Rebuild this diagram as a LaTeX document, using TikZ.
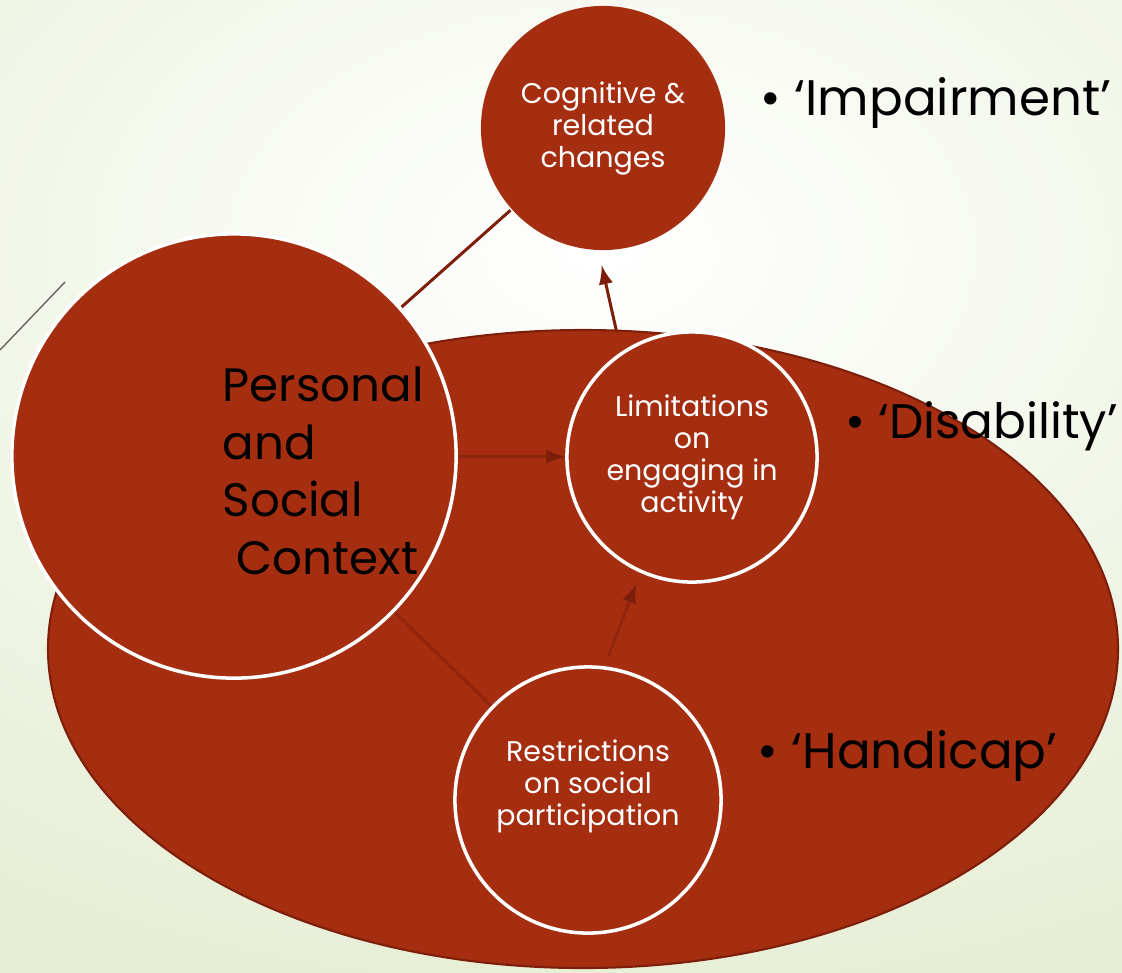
\documentclass[tikz,border=0pt]{standalone}
\usepackage{fontspec}
\setmainfont{Poppins}
\usetikzlibrary{positioning,arrows.meta}
\definecolor{rust}{RGB}{165,46,17}
\definecolor{rustdark}{RGB}{125,30,10}
\definecolor{paleback}{RGB}{228,236,208}
\pgfdeclarelayer{bg}
\pgfsetlayers{bg,main}

\begin{document}
\begin{tikzpicture}[x=0.01cm,y=-0.01cm]
		\tikzset{>=latex}
		\tikzset{
			bubble/.style={circle,fill=rust,draw=white,line width=1pt,text=white,
				align=center,inner sep=0pt,font=\fontsize{8.1}{9.1}\selectfont},
			bubbletext/.style={text=white,align=center,inner sep=0pt,
				font=\fontsize{8.1}{9.1}\selectfont},
			link/.style={draw=rustdark,line width=0.85pt},
			faint/.style={link,draw opacity=0.45},
			tag/.style={anchor=west,inner sep=0pt,font=\fontsize{14.2}{17}\selectfont}
		}
		\useasboundingbox (0,0) rectangle (1122,972);
		
		% the four bubbles
		\node[bubble,draw=none,minimum size=2.44cm] (cognitive) at (603,128)
			{Cognitive \&\\related\\changes};
		\node[bubble,minimum size=4.44cm] (context) at (234,456) {};
		\node[bubble,minimum size=2.5cm] (limits) at (692,457)
			{Limitations\\on\\engaging in\\activity};
		\node[bubble,minimum size=2.66cm] (restrict) at (588,800) {};
		\node[bubbletext] (restricttext) at (588,786)
			{Restrictions\\on social\\participation};
		\node[anchor=north west,align=left,inner sep=0pt,
			font=\fontsize{13.3}{16.4}\selectfont] (ctxtext) at (222,366)
			{Personal\\and\\Social\\\hspace{0.14cm}Context};
		
		% labels on the right
		\node[tag] (impair) at (760,103) {\textbullet\ ‘Impairment’};
		\node[tag,font=\fontsize{13.8}{17}\selectfont] (disab) at (845,426)
			{\textbullet\ ‘Disability’};
		\node[tag] (handi) at (757,756) {\textbullet\ ‘Handicap’};
		
		\begin{pgfonlayer}{bg}
			\shade[inner color=white,outer color=paleback] (-700,-600) rectangle (1900,1100);
			\draw[gray!80!black,line width=0.4pt] (0,350) -- (65,282);
			
			\draw[link] (context) -- (cognitive);
			\draw[link,->,shorten >=0.14cm,shorten <=-0.1cm] (limits.124) -- (cognitive.268);
			
			% the large oval
			\draw[rustdark,fill=rust,line width=0.6pt]
				(583,649) ellipse [x radius=535,y radius=319];
			
			% links inside the oval show only faintly
			\draw[faint,draw opacity=0.6,->] (context) -- (limits);
			\draw[faint] (context) -- (restrict);
			\draw[faint,->,shorten >=0.12cm,shorten <=0.1cm] (restrict.83) -- (limits.246);
		\end{pgfonlayer}
\end{tikzpicture}
\end{document}
